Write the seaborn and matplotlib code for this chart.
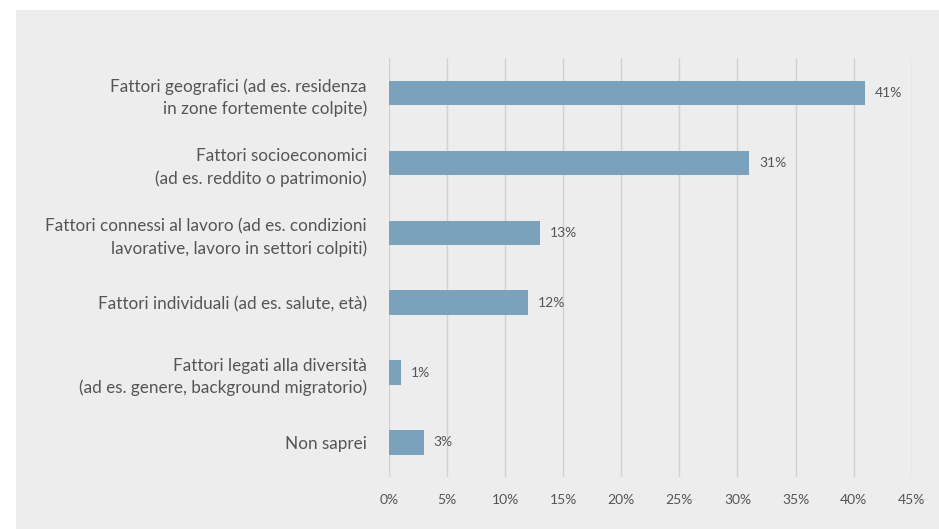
import matplotlib
matplotlib.use("Agg")
import matplotlib.pyplot as plt
import matplotlib.patches as mpatches
import seaborn as sns
import pandas as pd

categories = [
    "Fattori geografici (ad es. residenza\nin zone fortemente colpite)",
    "Fattori socioeconomici\n(ad es. reddito o patrimonio)",
    "Fattori connessi al lavoro (ad es. condizioni\nlavorative, lavoro in settori colpiti)",
    "Fattori individuali (ad es. salute, età)",
    "Fattori legati alla diversità\n(ad es. genere, background migratorio)",
    "Non saprei",
]
values = [41, 31, 13, 12, 1, 3]
x_ticks = [0, 5, 10, 15, 20, 25, 30, 35, 40, 45]
x_tick_labels = [f"{t}%" for t in x_ticks]

panel_color = "#ededed"
bar_color = "#7aa2bd"
grid_color = "#d2d2d2"
text_color = "#555555"
font_family = ["Lato", "DejaVu Sans"]

sns.set_theme(style="white")
plt.rcParams["font.family"] = font_family

df = pd.DataFrame({"categoria": categories, "valore": values})

fig = plt.figure(figsize=(9.39, 5.29), dpi=100, facecolor="white")
# light grey panel behind the whole chart
fig.patches.append(mpatches.Rectangle((16 / 939, 0), 1 - 16 / 939, 1 - 10 / 529,
                                      transform=fig.transFigure, facecolor=panel_color,
                                      edgecolor="none", zorder=-10))

ax = fig.add_axes([389 / 939, 1 - 477.3 / 529, (911.7 - 389) / 939, (477.3 - 58.3) / 529])
ax.set_facecolor("none")

sns.barplot(data=df, x="valore", y="categoria", orient="h", color=bar_color,
            saturation=1, width=0.35, linewidth=0, ax=ax, zorder=3)

ax.set_xlim(0, 45)
ax.set_ylim(5.5, -0.5)
ax.set_xticks(x_ticks)
ax.set_xticklabels(x_tick_labels)
ax.set_xlabel("")
ax.set_ylabel("")
for s in ax.spines.values():
    s.set_visible(False)
ax.grid(False)
for t in x_ticks:
    ax.axvline(t, color=grid_color, lw=1.0, zorder=1)

ax.tick_params(axis="x", length=0, pad=12, labelsize=10, labelcolor=text_color)
ax.tick_params(axis="y", length=0, pad=16, labelsize=12.3, labelcolor=text_color)
for lbl in ax.get_yticklabels():
    lbl.set_multialignment("right")
    lbl.set_linespacing(1.45)

for i, v in enumerate(values):
    ax.text(v + 0.85, i, f"{v}%", va="center", ha="left", fontsize=10,
            color=text_color, zorder=4)

fig.savefig("out.png", dpi=100, facecolor="white")
